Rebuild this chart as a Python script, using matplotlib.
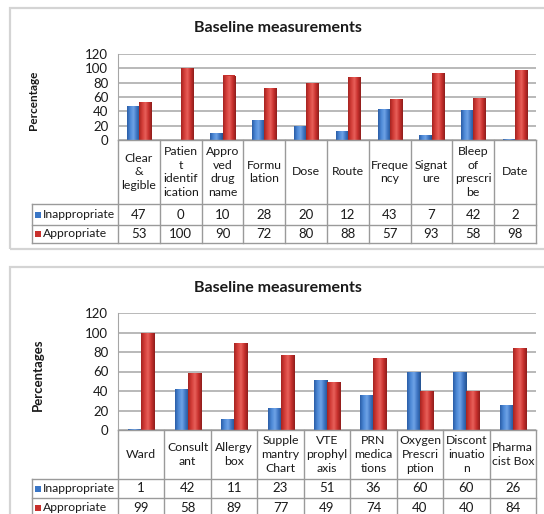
import matplotlib
matplotlib.use('Agg')
import matplotlib.pyplot as plt
from matplotlib.transforms import blended_transform_factory
from matplotlib.patches import Rectangle
from matplotlib.colors import LinearSegmentedColormap
import numpy as np

plt.rcParams['font.family'] = ['Lato', 'DejaVu Sans']

# ---------------- data ----------------
series_names = ["Inappropriate", "Appropriate"]
y_ticks = [0, 20, 40, 60, 80, 100, 120]

cats_top = ["Clear\n&\nlegible", "Patien\nt\nidentif\nication", "Appro\nved\ndrug\nname",
            "Formu\nlation", "Dose", "Route", "Freque\nncy", "Signat\nure",
            "Bleep\nof\nprescri\nbe", "Date"]
inappropriate_top = [47, 0, 10, 28, 20, 12, 43, 7, 42, 2]
appropriate_top = [53, 100, 90, 72, 80, 88, 57, 93, 58, 98]

cats_bot = ["Ward", "Consult\nant", "Allergy\nbox", "Supple\nmantry\nChart", "VTE\nprophyl\naxis",
            "PRN\nmedica\ntions", "Oxygen\nPrescri\nption", "Discont\ninuatio\nn", "Pharma\ncist Box"]
inappropriate_bot = [1, 42, 11, 23, 51, 36, 60, 60, 26]
appropriate_bot = [99, 58, 89, 77, 49, 74, 40, 40, 84]

title_text = "Baseline measurements"

# ---------------- layout ----------------
W, H = 544, 514
fig = plt.figure(figsize=(W / 100, H / 100), dpi=100)
fig.patch.set_facecolor('white')

def fx(x):
    return x / W

def fy(y):
    return 1 - y / H

BLUE = '#3A76C6'
RED = '#C8302D'
GRID = '#a6a6a6'
TBL = '#9a9a9a'
TXT = '#1a1a1a'

cmap_blue = LinearSegmentedColormap.from_list('b', ['#2A5DA6', '#4C88D6', '#6FA3E6', '#3D74C2', '#24528F'])
cmap_red = LinearSegmentedColormap.from_list('r', ['#A52320', '#D33D38', '#E8605A', '#C8302D', '#8E1D1B'])
grad = np.linspace(0, 1, 64)[np.newaxis, :]


def shade(ax, bars, cmap):
    for p in bars.patches:
        x0, w, h = p.get_x(), p.get_width(), p.get_height()
        if h <= 0:
            continue
        im = ax.imshow(grad, extent=[x0, x0 + w, 0, h], aspect='auto', cmap=cmap,
                       zorder=3.5, interpolation='bilinear')
        im.set_clip_path(p)


def panel(cats, inap, app, box, title_y, ax_top, ax_bot, hdr_bot, r1_bot, r2_bot,
          ylabel, ylabel_x, ylabel_size, bar_w, hdr_size):
    bl, bt, br, bb = box
    fig.patches.append(Rectangle((fx(bl), fy(bb)), fx(br - bl), (bb - bt) / H,
                                 transform=fig.transFigure, facecolor='none',
                                 edgecolor='#d4d4d4', lw=1.6, zorder=-1))
    fig.text(fx(278), fy(title_y), title_text, ha='center', va='center',
             fontsize=11.5, fontweight='bold', color=TXT)

    L, R = 118, 536
    ax = fig.add_axes([fx(L), fy(ax_bot), fx(R - L), (ax_bot - ax_top) / H])
    n = len(cats)
    x = np.arange(n)
    b1 = ax.bar(x - bar_w / 2, inap, bar_w, color=BLUE, edgecolor='none', lw=0, zorder=3)
    b2 = ax.bar(x + bar_w / 2, app, bar_w, color=RED, edgecolor='none', lw=0, zorder=3)
    shade(ax, b1, cmap_blue)
    shade(ax, b2, cmap_red)
    ax.set_xlim(-0.5, n - 0.5)
    ax.set_ylim(0, 120)
    ax.set_yticks(y_ticks)
    ax.set_xticks([])
    ax.yaxis.grid(True, color=GRID, lw=1.1)
    ax.set_axisbelow(True)
    for s in ['top', 'right', 'bottom']:
        ax.spines[s].set_visible(False)
    ax.spines['left'].set_color(GRID)
    ax.tick_params(axis='y', length=0, pad=7, labelsize=9.5, labelcolor=TXT)
    ax.set_facecolor('none')

    fig.text(fx(ylabel_x), fy((ax_top + ax_bot) / 2 + 3), ylabel, rotation=90, ha='center',
             va='center', fontsize=ylabel_size, fontweight='bold', color=TXT)

    # table
    tr = blended_transform_factory(ax.transData, fig.transFigure)
    for i in range(n + 1):
        ax.plot([i - 0.5, i - 0.5], [fy(ax_bot), fy(r2_bot)], transform=tr, color=TBL,
                lw=1, clip_on=False)
    leg_l = 32
    fig.lines.append(plt.Line2D([fx(L), fx(R)], [fy(ax_bot), fy(ax_bot)], transform=fig.transFigure,
                                color=TBL, lw=1))
    for yy in (hdr_bot, r1_bot, r2_bot):
        fig.lines.append(plt.Line2D([fx(leg_l), fx(R)], [fy(yy), fy(yy)],
                                    transform=fig.transFigure, color=TBL, lw=1))
    fig.lines.append(plt.Line2D([fx(leg_l), fx(leg_l)], [fy(hdr_bot), fy(r2_bot)],
                                transform=fig.transFigure, color=TBL, lw=1))

    hdr_mid = (ax_bot + hdr_bot) / 2
    for i, c in enumerate(cats):
        ax.text(i, fy(hdr_mid), c, transform=tr, ha='center', va='center', fontsize=hdr_size,
                linespacing=1.3, color=TXT, clip_on=False)
    rows = [(inap, (hdr_bot + r1_bot) / 2), (app, (r1_bot + r2_bot) / 2)]
    for vals, ym in rows:
        for i, v in enumerate(vals):
            ax.text(i, fy(ym), str(v), transform=tr, ha='center', va='center', fontsize=9.5,
                    color=TXT, clip_on=False)
    for (name, col), (_, ym) in zip(zip(series_names, [BLUE, RED]), rows):
        fig.patches.append(Rectangle((fx(35), fy(ym + 3)), fx(6), 6 / H,
                                     transform=fig.transFigure, facecolor=col,
                                     edgecolor='none'))
        fig.text(fx(43), fy(ym), name, ha='left', va='center', fontsize=8.7, color=TXT)
    return ax


panel(cats_top, inappropriate_top, appropriate_top, (10, 8, 548, 249), 28, 54, 140,
      204, 225, 243, "Percentage", 34, 8.5, 0.29, 8.8)
panel(cats_bot, inappropriate_bot, appropriate_bot, (10, 267, 548, 520), 288, 313, 430,
      479, 498, 517, "Percentages", 38, 9.5, 0.28, 8.8)

fig.savefig('out.png', dpi=100, facecolor='white')
